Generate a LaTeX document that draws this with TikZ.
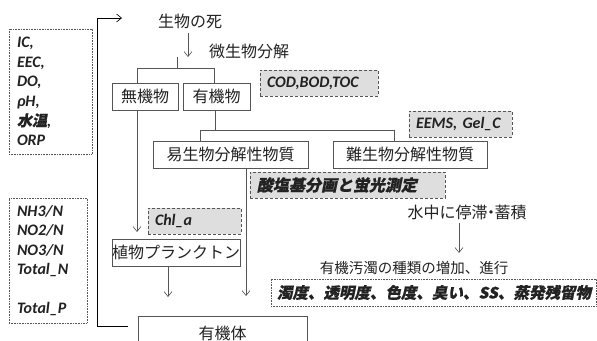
\documentclass[tikz,border=0pt]{standalone}
\usepackage{fontspec}
\setmainfont{Carlito}
\newfontfamily\jp{Noto Sans CJK JP}
\newfontfamily\jpi{Noto Sans CJK JP}[FakeSlant=0.2,FakeBold=0.6]
\usetikzlibrary{arrows.meta}
\definecolor{ink}{HTML}{222222}
\definecolor{edge}{HTML}{555555}
\definecolor{shade}{HTML}{DEDEDE}
\tikzset{
  every node/.style={text=ink},
  wbox/.style={draw=edge, line width=0.8pt, fill=white, inner sep=0pt, minimum height=27pt, font=\jp\fontsize{16}{18}\selectfont},
  gbox/.style={draw=edge, densely dashed, line width=0.5pt, fill=shade, inner xsep=7pt, inner ysep=0pt, minimum height=26pt, align=left, font=\bfseries\itshape\fontsize{16}{18}\selectfont},
  dbox/.style={draw=edge, densely dotted, line width=0.6pt, inner xsep=8pt, inner ysep=0pt, align=left, font=\bfseries\itshape\fontsize{16}{19.6}\selectfont},
  lbl/.style={inner sep=0pt, font=\jp\fontsize{16}{18}\selectfont},
  con/.style={draw=edge, line width=0.6pt},
  arr/.style={con, -{Straight Barb[length=5pt,width=8pt]}},
  brk/.style={draw=black, line width=1pt, -{Straight Barb[length=5pt,width=8pt,line width=0.6pt]}},
}
\begin{document}
\begin{tikzpicture}[x=1pt,y=-1pt]
\useasboundingbox (0,0) rectangle (597,340);
\clip (0,0) rectangle (597,340);

% left info boxes
\node[dbox, text width=67pt, minimum height=125pt] (info1) at (50.5,91.5)
  {IC,\\EEC,\\DO,\\ρH,\\{\jpi\fontsize{15}{19.6}\selectfont 水温},\\ORP};
\node[dbox, text width=62pt, minimum height=125pt] (info2) at (48,260.5)
  {NH3/N\\NO2/N\\NO3/N\\Total\_N\\[19.3pt]Total\_P};

% main labels
\node[lbl] (death) at (190,21) {生物の死};
\node[lbl] (decomp) at (249,51) {微生物分解};

\node[wbox, minimum width=66pt] (mu) at (145,96.5) {無機物};
\node[wbox, minimum width=67pt] (yu) at (216.5,96.5) {有機物};
\node[wbox, minimum width=155pt] (easy) at (230.5,154.5) {易生物分解性物質};
\node[wbox, minimum width=154pt] (hard) at (410,154.5) {難生物分解性物質};
\node[wbox, minimum width=128pt] (plank) at (176,252.5) {植物プランクトン};
\node[wbox, minimum width=169pt, minimum height=34pt] (ytai) at (222.5,333) {有機体};

% grey measurement boxes
\node[gbox, text width=104pt] (cod) at (319,83) {COD,BOD,TOC};
\node[gbox, text width=89pt] (eems) at (460.5,124) {EEMS, Gel\_C};
\node[gbox, text width=181pt] (acid) at (347.5,185) {{\jpi 酸塩基分画と蛍光測定}};
\node[gbox, text width=79pt] (chl) at (194.5,221) {Chl\_a};

% right side
\node[lbl] (stay) at (467,213) {水中に停滞\kern-4.5pt・\kern-4.5pt蓄積};
\node[lbl, font=\jp\fontsize{14.5}{17}\selectfont] (incr) at (414,268) {有機汚濁の種類の増加、進行};
\node[dbox, fill=white, inner xsep=6pt, text width=313pt, minimum height=27pt] (turb) at (433.5,292.5)
  {{\jpi\fontsize{15.5}{18}\selectfont 濁度、透明度、色度、臭い、SS、蒸発残留物}};

% coordinates
\coordinate (a1) at (188,57);
\coordinate (t1) at (177,57);
\coordinate (t2) at (177,68);
\coordinate (b1) at (137,68);
\coordinate (b2) at (214,68);
\coordinate (c0) at (215,130);
\coordinate (c1) at (200,130);
\coordinate (c2) at (394,130);
\coordinate (e1) at (246,296);
\coordinate (e2) at (168,297);
\coordinate (m1) at (137,232);
\coordinate (s1) at (459,253);
\coordinate (k1) at (128,326);
\coordinate (k2) at (97,326);
\coordinate (k3) at (97,18);
\coordinate (k4) at (122,18);

% connectors
\draw[arr] (death.south -| a1) ++(0,4) -- (a1);
\draw[con] (t1) -- (t2);
\draw[con] (mu.north -| b1) -- (b1) -- (b2) -- (yu.north -| b2);
\draw[con] (yu.south -| c0) -- (c0);
\draw[con] (easy.north -| c1) -- (c1) -- (c2) -- (hard.north -| c2);
\draw[arr] (mu.south -| m1) -- (m1);
\draw[arr] (easy.south -| e1) -- (e1);
\draw[arr] (plank.south -| e2) -- (e2);
\draw[arr] (stay.south -| s1) ++(0,2) -- (s1);
\draw[brk] (k1) -- (k2) -- (k3) -- (k4);
\end{tikzpicture}
\end{document}
